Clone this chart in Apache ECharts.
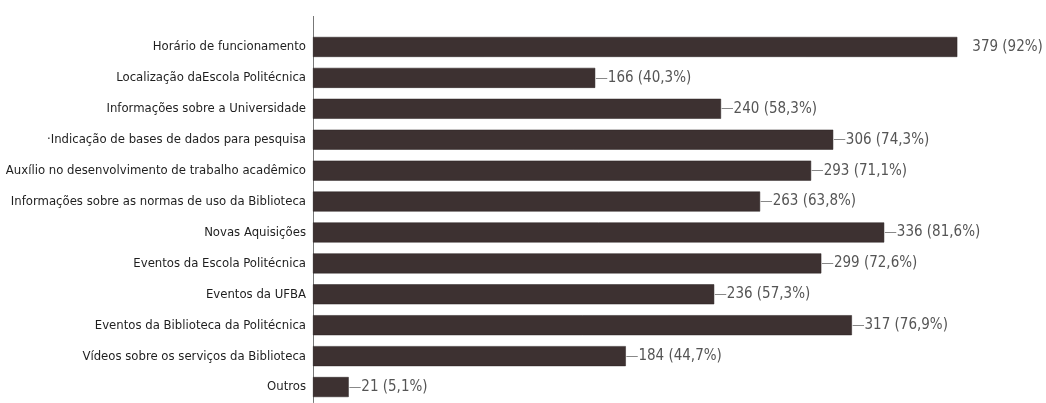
<!DOCTYPE html>
<html><head><meta charset="utf-8">
<script src="https://cdn.jsdelivr.net/npm/echarts@6/dist/echarts.min.js"></script>
<style>html,body{margin:0;padding:0;background:#fff}#c{width:1046px;height:403px}</style>
</head><body><div id="c"></div>
<script>
const categories = [
  'Horário de funcionamento',
  'Localização daEscola Politécnica',
  'Informações sobre a Universidade',
  '·Indicação de bases de dados para pesquisa',
  'Auxílio no desenvolvimento de trabalho acadêmico',
  'Informações sobre as normas de uso da Biblioteca',
  'Novas Aquisições',
  'Eventos da Escola Politécnica',
  'Eventos da UFBA',
  'Eventos da Biblioteca da Politécnica',
  'Vídeos sobre os serviços da Biblioteca',
  'Outros'
];
const values = [379, 166, 240, 306, 293, 263, 336, 299, 236, 317, 184, 21];
const percents = ['92%', '40,3%', '58,3%', '74,3%', '71,1%', '63,8%', '81,6%', '72,6%', '57,3%', '76,9%', '44,7%', '5,1%'];

const FONT = "'DejaVu Sans Condensed', 'Liberation Sans Narrow', sans-serif";
const chart = echarts.init(document.getElementById('c'));
chart.setOption({
  animation: false,
  grid: { left: 313, right: 53, top: 31.5, height: 371 },
  xAxis: { type: 'value', min: 0, max: 400, show: false },
  yAxis: {
    type: 'category', data: categories, inverse: true,
    axisLine: { show: true, lineStyle: { color: '#777', width: 1 } },
    axisTick: { show: false },
    axisLabel: { color: '#1e1e1e', fontFamily: FONT, fontSize: 13, margin: 7 }
  },
  graphic: [{ type: 'line', shape: { x1: 313.5, y1: 16, x2: 313.5, y2: 32 }, style: { stroke: '#777', lineWidth: 1 } }],
  series: [{
    type: 'bar', data: values, barWidth: 20,
    itemStyle: { color: '#3d3131', borderColor: '#2a2222', borderWidth: 0.5 },
    label: {
      show: true, position: 'right', distance: 0,
      fontFamily: FONT, fontSize: 15, color: '#555',
      formatter: p => (p.dataIndex === 0 ? '{g|}' : '{d|—}') + p.value + ' (' + percents[p.dataIndex] + ')',
      rich: {
        d: { color: '#888', fontFamily: FONT, fontSize: 14 },
        g: { width: 15 }
      }
    }
  }]
});
</script></body></html>
